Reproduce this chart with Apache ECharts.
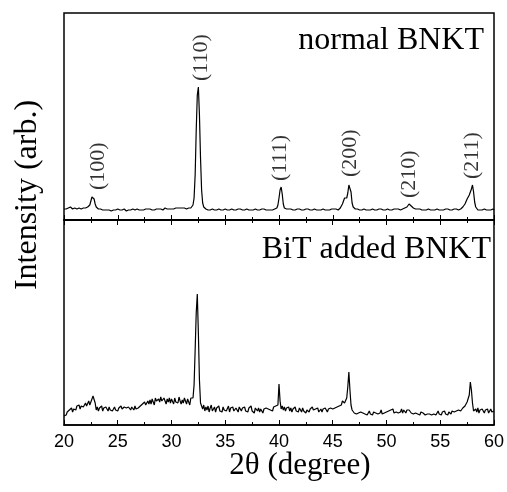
<!DOCTYPE html>
<html>
<head>
<meta charset="utf-8">
<script src="https://cdn.jsdelivr.net/npm/echarts@6/dist/echarts.min.js"></script>
<style>html,body{margin:0;padding:0;background:#fff}#c{width:507px;height:492px}</style>
</head>
<body>
<div id="c"></div>
<script>
// XRD patterns, sampled every 0.1 degree from 20 to 60 (2θ)
const thetaStart = 20;
const thetaStep = 0.1;
const xTicks = [20, 25, 30, 35, 40, 45, 50, 55, 60];

const normalBNKT = [
  11,12,11,13,12,11,13,12,11,12,
  12,13,11,11,12,12,11,11,12,12,
  12,12,13,13,15,19,23,24,21,16,
  13,11,11,10,11,10,10,11,10,10,
  10,11,10,10,9,10,10,11,10,10,
  11,10,10,9,10,10,11,10,9,10,
  10,11,10,10,11,10,10,10,11,10,
  10,11,10,11,10,10,11,10,11,10,
  11,10,10,11,10,11,11,10,11,10,
  11,11,10,11,12,11,11,12,11,11,
  11,12,11,11,12,11,12,11,12,11,
  12,11,12,12,11,12,12,13,12,13,
  15,22,45,90,125,133,105,62,30,17,
  13,12,11,11,10,11,10,10,11,10,
  10,11,10,10,11,10,10,11,10,10,
  11,10,10,11,10,10,11,10,10,11,
  10,10,11,10,11,10,10,11,10,10,
  11,10,10,11,10,11,10,10,11,10,
  10,11,10,10,11,10,11,10,10,11,
  10,11,10,11,10,10,11,11,12,15,
  22,30,33,26,16,12,11,11,10,11,
  10,11,10,10,11,10,10,11,10,11,
  10,10,11,10,10,11,10,11,10,10,
  11,10,10,11,10,10,11,10,11,10,
  10,11,10,10,11,10,11,10,10,11,
  10,11,10,11,11,10,11,12,13,16,
  19,22,23,22,27,35,37,28,17,13,
  11,11,10,11,10,10,11,10,10,11,
  10,10,11,10,11,10,10,11,10,10,
  11,10,10,11,10,11,10,10,11,10,
  10,11,10,10,11,10,10,11,10,11,
  10,11,10,10,11,11,11,12,12,13,
  15,16,15,14,13,12,11,11,10,11,
  10,11,10,10,11,10,11,10,10,11,
  10,10,11,10,11,10,10,11,10,10,
  11,10,11,10,10,11,10,11,10,10,
  11,10,10,11,10,11,11,10,11,11,
  12,13,14,16,18,21,23,25,26,31,
  35,28,18,13,11,10,11,10,11,10,
  10,11,10,10,11,10,11,10,10,11,10
];

const bitAddedBNKT = [
  9,11,10,13,12,15,14,17,13,16,
  18,15,19,17,20,16,19,21,18,20,
  22,19,21,24,20,23,26,29,30,22,
  15,18,14,17,16,19,14,17,15,18,
  16,14,18,15,17,14,16,18,15,17,
  14,17,15,19,16,14,18,16,17,15,
  18,16,15,18,17,15,19,16,18,17,
  16,19,18,21,19,23,20,22,24,21,
  25,21,26,23,20,27,24,22,26,23,
  28,24,22,27,25,21,26,23,27,22,
  26,24,21,27,23,25,22,28,24,21,
  25,22,27,24,21,26,23,20,27,25,
  27,40,75,112,131,92,45,22,19,16,
  20,14,18,15,19,13,17,20,14,16,
  18,13,17,15,19,14,16,13,18,15,
  17,14,16,19,13,17,15,18,14,16,
  17,15,13,18,16,14,17,15,18,14,
  16,13,17,15,19,14,16,12,17,15,
  14,17,13,16,15,12,16,14,17,15,
  16,18,15,17,14,18,16,19,17,20,
  41,24,16,19,15,18,14,17,15,18,
  14,17,13,16,15,18,14,16,13,17,
  15,13,17,14,16,12,15,17,13,16,
  14,18,15,13,16,14,17,13,15,16,
  13,16,14,17,15,13,16,14,17,15,
  16,14,17,15,18,16,19,21,20,24,
  25,22,24,27,38,53,35,20,15,13,
  12,14,11,13,12,10,13,11,12,14,
  11,13,10,12,14,11,12,10,13,11,
  12,14,11,13,12,15,11,13,12,14,
  13,11,14,12,15,13,16,12,14,13,
  15,12,14,13,16,12,15,14,12,15,
  13,15,16,12,14,11,13,12,14,11,
  12,10,13,11,12,14,10,12,11,13,
  11,13,10,12,11,13,10,12,14,11,
  12,10,13,11,14,11,12,10,13,12,
  11,14,12,13,11,14,12,15,13,14,
  15,17,16,19,21,23,25,30,43,35,
  22,14,12,16,13,17,12,15,13,16,
  14,12,15,13,16,12,14,16,13,15,14
];

// Peak annotations (Miller indices) for the upper pattern
const peakNames = ['(100)', '(110)', '(111)', '(200)', '(210)', '(211)'];
const peakTheta = [23.2, 32.8, 40.15, 46.6, 52.1, 58.0];
const peakTop = [24, 133, 33, 37, 16, 35];

const panelTitles = ['normal BNKT', 'BiT added BNKT'];
const xTitle = '2θ (degree)';
const yTitle = 'Intensity (arb.)';

function toPairs(vals) {
  return vals.map((v, i) => [+(thetaStart + i * thetaStep).toFixed(2), v]);
}

const serif = '"Liberation Serif", "Times New Roman", serif';
const sans = '"Liberation Sans", Arial, sans-serif';

const chart = echarts.init(document.getElementById('c'), null, {renderer: 'canvas'});

const commonX = {
  type: 'value', min: 20, max: 60, interval: 5,
  axisLine: {show: true, lineStyle: {color: '#000', width: 1.5}},
  axisTick: {show: true, inside: true, length: 5, lineStyle: {color: '#000', width: 1}},
  minorTick: {show: true, splitNumber: 2, length: 3, lineStyle: {color: '#000', width: 1}},
  splitLine: {show: false},
  axisLabel: {show: false}
};

const option = {
  animation: false,
  backgroundColor: '#fff',
  grid: [
    {left: 64, right: 13, top: 13, height: 207, show: true, borderColor: '#000', borderWidth: 1.5},
    {left: 64, right: 13, top: 220, height: 205, show: true, borderColor: '#000', borderWidth: 1.5}
  ],
  xAxis: [
    Object.assign({}, commonX, {gridIndex: 0, position: 'bottom'}),
    Object.assign({}, commonX, {gridIndex: 1, position: 'bottom',
      axisLabel: {show: true, color: '#000', fontFamily: sans, fontSize: 18, margin: 8,
        formatter: v => xTicks.includes(v) ? String(v) : ''}}),
    Object.assign({}, commonX, {gridIndex: 1, position: 'top'})
  ],
  yAxis: [
    {type: 'value', gridIndex: 0, min: 0, max: 207, show: false},
    {type: 'value', gridIndex: 1, min: 0, max: 205, show: false}
  ],
  series: [
    {type: 'line', xAxisIndex: 0, yAxisIndex: 0, data: toPairs(normalBNKT), showSymbol: false, symbol: 'none',
     lineStyle: {color: '#000', width: 1.2}, silent: true},
    {type: 'line', xAxisIndex: 1, yAxisIndex: 1, data: toPairs(bitAddedBNKT), showSymbol: false, symbol: 'none',
     lineStyle: {color: '#000', width: 1.2}, silent: true},
    {type: 'scatter', xAxisIndex: 0, yAxisIndex: 0, symbolSize: 0, silent: true,
     data: peakNames.map((n, i) => ({name: n, value: [peakTheta[i], peakTop[i]]})),
     label: {show: true, position: 'top', distance: 6, rotate: 90, align: 'left', verticalAlign: 'middle',
       formatter: p => p.name, color: '#000', fontFamily: serif, fontSize: 22}}
  ],
  graphic: [
    {type: 'text', right: 507 - 484, top: 25, style: {text: panelTitles[0], font: '32px ' + serif, fill: '#000'}},
    {type: 'text', right: 507 - 491, top: 234, style: {text: panelTitles[1], font: '32px ' + serif, fill: '#000'}},
    {type: 'text', x: 300, y: 466, style: {text: xTitle, font: '31px ' + serif, fill: '#000', textAlign: 'center', textVerticalAlign: 'middle'}},
    {type: 'text', x: 28, y: 195, rotation: Math.PI / 2, style: {text: yTitle, font: '32px ' + serif, fill: '#000', textAlign: 'center', textVerticalAlign: 'middle'}}
  ]
};
chart.setOption(option);
</script>
</body>
</html>
